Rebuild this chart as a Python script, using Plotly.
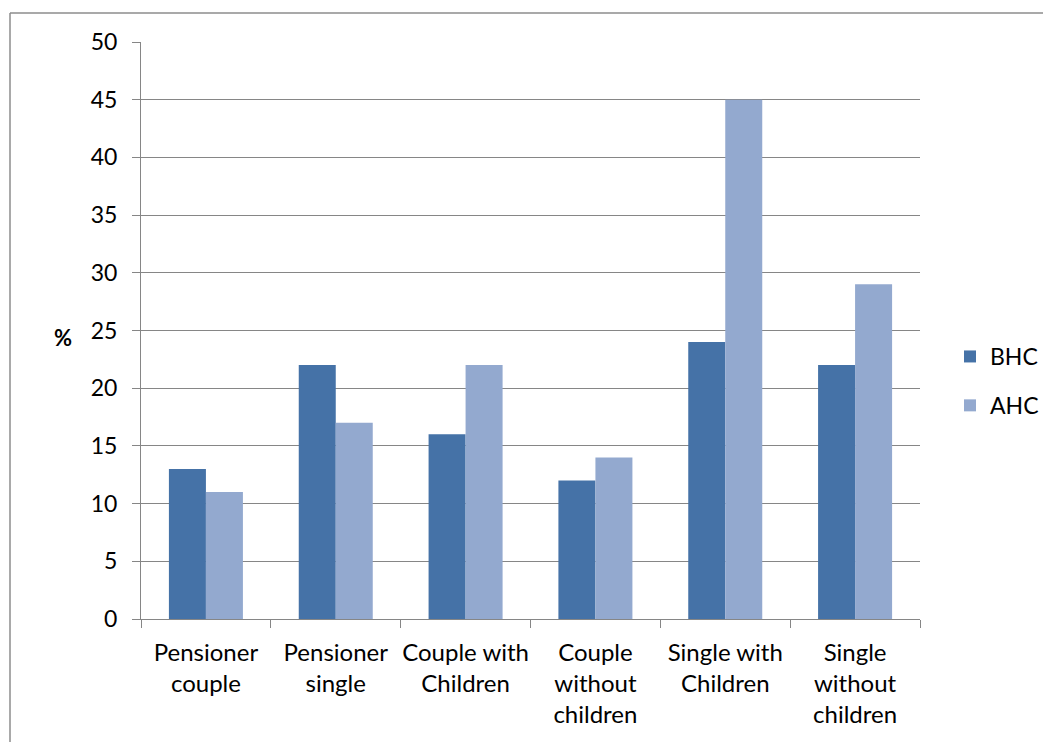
import plotly.graph_objects as go

categories = ["Pensioner<br>couple", "Pensioner<br>single", "Couple with<br>Children",
              "Couple<br>without<br>children", "Single with<br>Children", "Single<br>without<br>children"]
bhc = [13, 22, 16, 12, 24, 22]
ahc = [11, 17, 22, 14, 45, 29]

FONT = "Lato"
GRID = "#868686"

fig = go.Figure()
fig.add_trace(go.Bar(x=categories, y=bhc, name="BHC", marker_color="#4572A7",
                     marker_line_width=0, legendgroup="a"))
fig.add_trace(go.Bar(x=categories, y=ahc, name="AHC", marker_color="#93A9CF",
                     marker_line_width=0, legendgroup="b"))

W, H = 1043, 742
L, R, T, B = 141, 920, 42, 619

def px(x):
    return (x - L) / (R - L)

def py(y):
    return (B - y) / (B - T)

fig.update_layout(
    width=W, height=H,
    margin=dict(l=L, r=W - R, t=T, b=H - B, pad=0, autoexpand=False),
    paper_bgcolor="white", plot_bgcolor="white",
    barmode="group", bargap=0.43, bargroupgap=0,
    font=dict(family=FONT, size=23, color="black"),
    showlegend=True,
    legend=dict(x=px(950), y=py(335), xanchor="left", yanchor="top",
                font=dict(size=23, family=FONT), tracegroupgap=16,
                bgcolor="rgba(0,0,0,0)"),
    xaxis=dict(showgrid=False, showline=True, linecolor=GRID, linewidth=1,
               ticks="outside", tickson="boundaries", ticklen=8, tickcolor=GRID,
               tickangle=0, automargin=False, ticklabelstandoff=12,
               tickfont=dict(size=24, family=FONT), mirror=False, zeroline=False),
    yaxis=dict(range=[0, 50], dtick=5, showgrid=True, gridcolor=GRID, gridwidth=1,
               showline=True, linecolor=GRID, linewidth=1, ticks="outside",
               ticklen=8, tickcolor=GRID, tickfont=dict(size=23, family=FONT),
               zeroline=False, ticklabelstandoff=10, automargin=False),
    shapes=[
        dict(type="line", xref="paper", yref="paper", x0=px(10), x1=px(1050),
             y0=py(13), y1=py(13), line=dict(color="#8c8c8c", width=1.5)),
        dict(type="line", xref="paper", yref="paper", x0=px(10), x1=px(10),
             y0=py(13), y1=py(750), line=dict(color="#8c8c8c", width=1.5)),
    ],
    annotations=[
        dict(text="<b>%</b>", xref="paper", yref="paper", x=px(63), y=py(337),
             showarrow=False, font=dict(size=22, family=FONT), xanchor="center",
             yanchor="middle"),
    ],
)

fig.write_html("out.html")
